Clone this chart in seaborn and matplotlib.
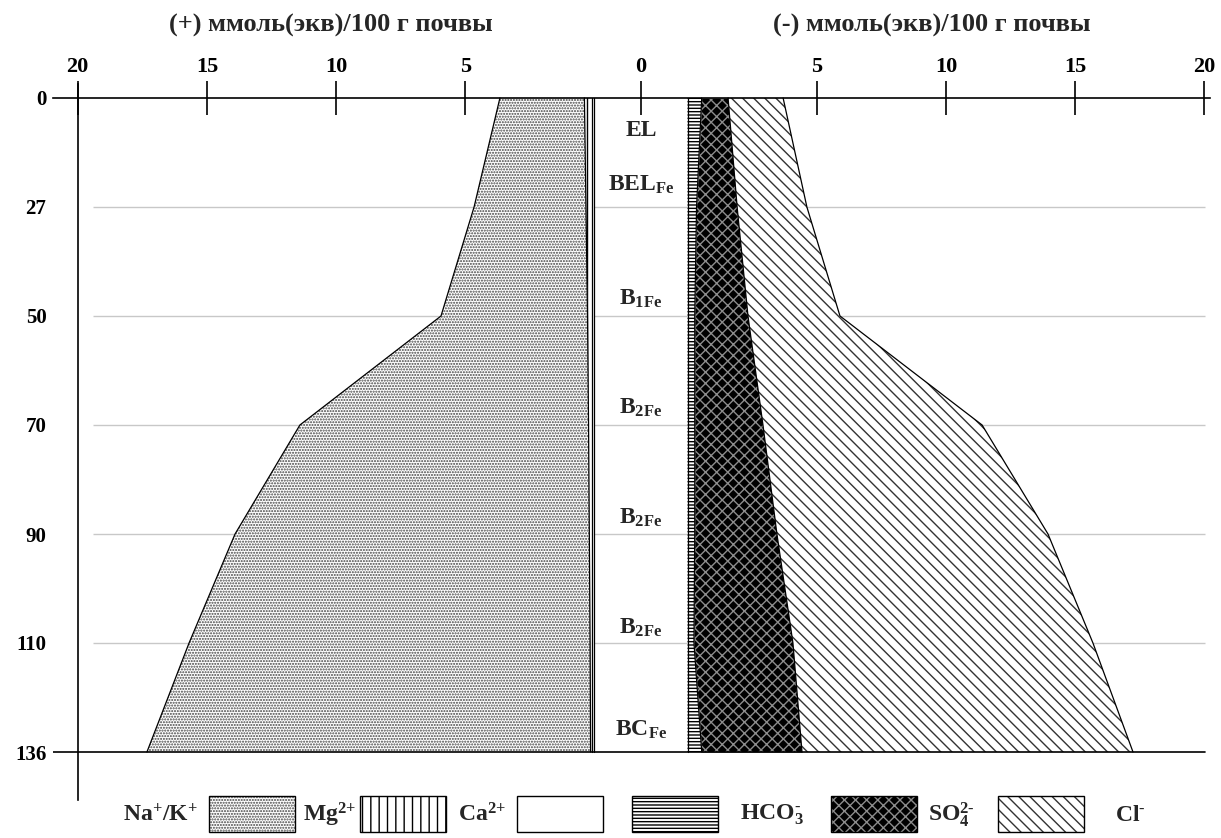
# Salt profile: cations (left) and anions (right) down the soil profile
import matplotlib
matplotlib.use("Agg")
import matplotlib.pyplot as plt
import numpy as np
import pandas as pd
import seaborn as sns
from matplotlib.patches import Rectangle

# depth marks, cm
depth_labels = ["0", "27", "50", "70", "90", "110", "136"]
horizons = ["EL", "BEL$_{Fe}$", "B$_{1Fe}$", "B$_{2Fe}$", "B$_{2Fe}$", "B$_{2Fe}$", "BC$_{Fe}$"]
horizon_pos = [0.3, 0.8, 1.84, 2.84, 3.85, 4.86, 5.8]

# cations, mmol(eq)/100 g soil (left side)
ca = [0.10, 0.10, 0.10, 0.10, 0.10, 0.10, 0.10]
mg = [0.29, 0.23, 0.17, 0.13, 0.10, 0.07, 0.05]
na_k = [3.27, 4.33, 5.67, 11.17, 13.71, 15.52, 17.17]

# anions, mmol(eq)/100 g soil (right side)
hco3 = [0.55, 0.35, 0.28, 0.28, 0.28, 0.25, 0.55]
so4 = [1.02, 1.57, 2.06, 2.64, 3.18, 3.83, 3.88]
cl = [2.13, 2.70, 3.56, 8.48, 10.49, 11.61, 12.81]

scale_ticks = [20, 15, 10, 5]

GAP = 1.8  # half width of the central column with horizon names

sns.set_style("white")
plt.rcParams["font.family"] = ["Liberation Serif", "DejaVu Serif"]
plt.rcParams["font.weight"] = "bold"
plt.rcParams["mathtext.fontset"] = "custom"
plt.rcParams["mathtext.rm"] = "Liberation Serif:bold"
plt.rcParams["mathtext.it"] = "Liberation Serif:bold"
plt.rcParams["mathtext.bf"] = "Liberation Serif:bold"
plt.rcParams["mathtext.default"] = "rm"
plt.rcParams["hatch.linewidth"] = 1.0

W, H = 1221, 838
fig = plt.figure(figsize=(W / 100, H / 100), dpi=100)
ax = fig.add_axes([53 / W, 1 - 800 / H, (1210 - 53) / W, (800 - 84) / H])

depth = np.arange(len(depth_labels))
ca_a, mg_a, na_a = map(np.array, (ca, mg, na_k))
hco3_a, so4_a, cl_a = map(np.array, (hco3, so4, cl))

# cumulative boundaries
left = [-GAP - np.zeros(len(depth)),
        -GAP - ca_a,
        -GAP - ca_a - mg_a,
        -GAP - ca_a - mg_a - na_a]
right = [GAP + np.zeros(len(depth)),
         GAP + hco3_a,
         GAP + hco3_a + so4_a,
         GAP + hco3_a + so4_a + cl_a]

# grid lines behind everything
ax.hlines(depth[1:-1], 0.0346, 0.9957, transform=ax.get_yaxis_transform(),
          color="#c8c8c8", lw=1, zorder=0)

DOTS = "......"
NA_COL = "#444444"
CROSS = "xxx"
CROSS_COL = "#8c8c8c"
DIAG = "\\\\\\"

# cations
ax.fill_betweenx(depth, left[0], left[1], facecolor="white", edgecolor="black", lw=0, zorder=2)
ax.fill_betweenx(depth, left[1], left[2], facecolor="white", edgecolor="black",
                 hatch="||", lw=0, zorder=2)
ax.fill_betweenx(depth, left[2], left[3], facecolor="white", edgecolor=NA_COL,
                 hatch=DOTS, lw=0, zorder=2)

# anions
ax.fill_betweenx(depth, right[0], right[1], facecolor="white", edgecolor="black",
                 hatch="-----", lw=0, zorder=2)
ax.fill_betweenx(depth, right[1], right[2], facecolor="black", lw=0, zorder=2)
ax.fill_betweenx(depth, right[1], right[2], facecolor="none", edgecolor=CROSS_COL,
                 hatch=CROSS, lw=0, zorder=2)
ax.fill_betweenx(depth, right[2], right[3], facecolor="white", edgecolor="#333333",
                 hatch=DIAG, lw=0, zorder=2)

# layer boundaries
rows = []
for side, bounds in (("L", left), ("R", right)):
    for i, b in enumerate(bounds):
        for d, x in zip(depth, b):
            rows.append({"boundary": f"{side}{i}", "depth": d, "x": x})
bdf = pd.DataFrame(rows)
sns.lineplot(data=bdf, x="x", y="depth", units="boundary", estimator=None,
             sort=False, color="black", lw=0.9, ax=ax, zorder=3)

# depth 136 line
ax.axhline(depth[-1], xmin=0, xmax=0.9957, color="black", lw=1.2, zorder=4)

# horizon names
for lab, pos in zip(horizons, horizon_pos):
    ax.text(0, pos, lab, ha="center", va="center", fontsize=17, zorder=5)

ax.set_xlim((53 - 641) / 25.84, (1210 - 641) / 25.84)
ax.set_ylim((800 - 98) / 109, (84 - 98) / 109)

for s in ("right", "bottom"):
    ax.spines[s].set_visible(False)
ax.spines["left"].set_position(("data", -(GAP + scale_ticks[0])))
ax.spines["top"].set_position(("data", 0))
for s in ("left", "top"):
    ax.spines[s].set_color("black")
    ax.spines[s].set_linewidth(1.2)
    ax.spines[s].set_zorder(4)

ax.set_yticks(depth)
ax.set_yticklabels(depth_labels)
ax.xaxis.tick_top()
xt = [-(GAP + v) for v in scale_ticks] + [0] + [GAP + v for v in scale_ticks[::-1]]
xl = [str(v) for v in scale_ticks] + ["0"] + [str(v) for v in scale_ticks[::-1]]
ax.set_xticks(xt)
ax.set_xticklabels(xl)
ax.tick_params(axis="y", direction="inout", length=25, width=1.2, pad=10,
               labelsize=15, colors="black")
ax.tick_params(axis="x", direction="inout", length=24, width=1.2, pad=3,
               labelsize=16, colors="black")
ax.set_xlabel("")
ax.set_ylabel("")

fig.text(331 / W, 1 - 25 / H, "(+) ммоль(экв)/100 г почвы", ha="center", va="center", fontsize=19)
fig.text(932 / W, 1 - 25 / H, "(-) ммоль(экв)/100 г почвы", ha="center", va="center", fontsize=19)

# legend
lax = fig.add_axes([0, 0, 1, 1])
lax.set_xlim(0, W)
lax.set_ylim(H, 0)
lax.axis("off")
legend_items = [
    (r"Na$^{\text{+}}$/K$^{\text{+}}$", 160, 209, DOTS, "white", NA_COL),
    (r"Mg$^{2\text{+}}$", 330, 360, "||", "white", "black"),
    (r"Ca$^{2\text{+}}$", 482, 517, None, "white", "black"),
    (r"HCO$_{3}^{\text{-}}$", 772, 632, "-----", "white", "black"),
    (r"SO$_{4}^{2\text{-}}$", 951, 831, CROSS, "black", CROSS_COL),
    (r"Cl$^{\text{-}}$", 1130, 998, DIAG, "white", "#333333"),
]
for lab, tx, bx, hatch, face, hcol in legend_items:
    lax.add_patch(Rectangle((bx, 796), 86, 36, facecolor=face, edgecolor=hcol,
                            hatch=hatch, lw=0))
    lax.add_patch(Rectangle((bx, 796), 86, 36, facecolor="none", edgecolor="black", lw=1))
    lax.text(tx, 815, lab, ha="center", va="center", fontsize=17)

fig.savefig("out.png", dpi=100)
